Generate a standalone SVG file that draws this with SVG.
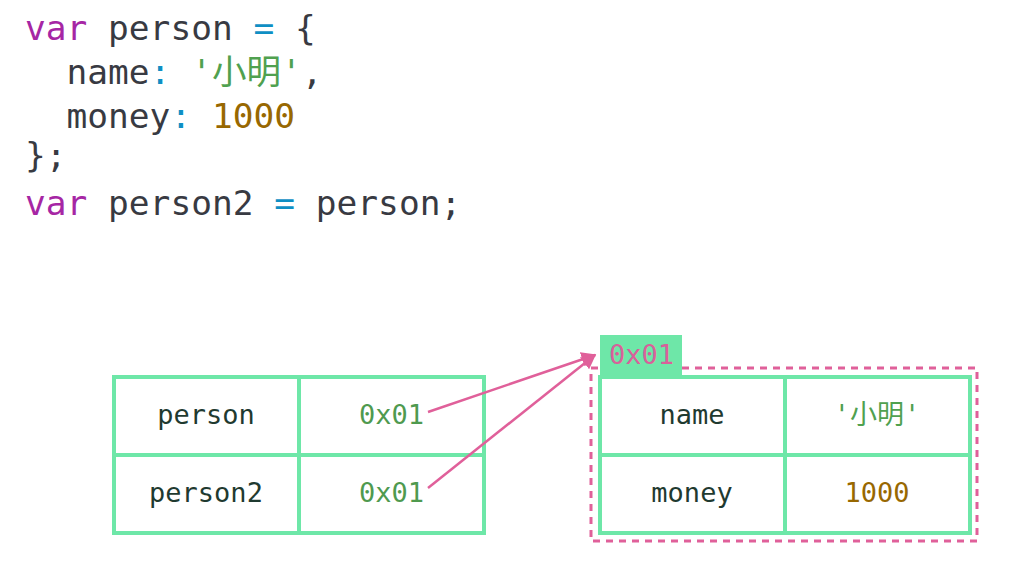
<svg xmlns="http://www.w3.org/2000/svg" width="1024" height="563" viewBox="0 0 1024 563">
<defs>
<style>
.code{font-family:"DejaVu Sans Mono","Noto Sans CJK SC",monospace;font-size:34.5px;fill:#383a42}
.kw{fill:#a626a4}.op{fill:#0f8fc4}.str{fill:#50a14f}.num{fill:#986801}
.cell{fill:#fff;stroke:#6ee7a8;stroke-width:4}
.t{font-family:"DejaVu Sans Mono","Noto Sans CJK SC",monospace;font-size:27px;fill:#1f3a30;text-anchor:middle}
.t.addr{fill:#4f9a4f;text-anchor:end}
.t.str{fill:#50a14f}.t.num{fill:#986801}
.conn{stroke:#e0609a;stroke-width:2.5;fill:none}
</style>
<marker id="ah" viewBox="0 0 10 10" refX="9" refY="5" markerWidth="6" markerHeight="6" orient="auto" markerUnits="strokeWidth">
<path d="M0,0 L10,5 L0,10 z" fill="#e0609a"/>
</marker>
</defs>
<rect width="1024" height="563" fill="#fff"/>
<g id="code">
<text class="code" x="25" y="40" xml:space="preserve"><tspan class="kw">var</tspan> person <tspan class="op">=</tspan> {</text>
<text class="code" x="25" y="84" xml:space="preserve">  name<tspan class="op">:</tspan> <tspan class="str">'小明'</tspan>,</text>
<text class="code" x="25" y="128" xml:space="preserve">  money<tspan class="op">:</tspan> <tspan class="num">1000</tspan></text>
<text class="code" x="25" y="167" xml:space="preserve">};</text>
<text class="code" x="25" y="215" xml:space="preserve"><tspan class="kw">var</tspan> person2 <tspan class="op">=</tspan> person;</text>
</g>
<g id="stack">
<rect class="cell" x="114" y="377" width="185" height="78"/>
<rect class="cell" x="299" y="377" width="185" height="78"/>
<rect class="cell" x="114" y="455" width="185" height="78"/>
<rect class="cell" x="299" y="455" width="185" height="78"/>
<text class="t" x="206" y="424">person</text>
<text class="t" x="206" y="502">person2</text>
<text class="t addr" x="424" y="424">0x01</text>
<text class="t addr" x="424" y="502">0x01</text>
</g>
<g id="heap">
<rect x="591" y="368" width="386" height="173" fill="none" stroke="#e0609a" stroke-width="3" stroke-dasharray="7,6"/>
<rect x="600" y="335" width="82" height="42" fill="#6ee7a8"/>
<text x="609" y="364" style="font-family:'DejaVu Sans Mono',monospace;font-size:27px;fill:#d9609a">0x01</text>
<rect class="cell" x="600" y="377" width="185" height="78"/>
<rect class="cell" x="785" y="377" width="185" height="78"/>
<rect class="cell" x="600" y="455" width="185" height="78"/>
<rect class="cell" x="785" y="455" width="185" height="78"/>
<text class="t" x="692" y="424">name</text>
<text class="t" x="692" y="502">money</text>
<text class="t str" x="877" y="424">'小明'</text>
<text class="t num" x="877" y="502">1000</text>
</g>
<g id="connectors">
<line class="conn" x1="428" y1="412" x2="595" y2="355" marker-end="url(#ah)"/>
<line class="conn" x1="428" y1="488" x2="595" y2="355" marker-end="url(#ah)"/>
</g>
</svg>
